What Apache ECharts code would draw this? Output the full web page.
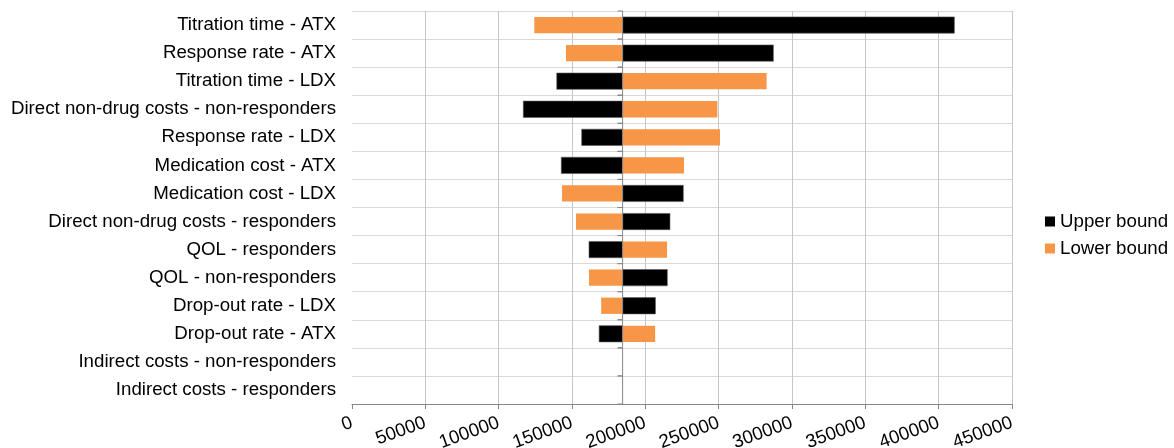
<!DOCTYPE html>
<html>
<head>
<meta charset="utf-8">
<script src="https://cdn.jsdelivr.net/npm/echarts@6/dist/echarts.min.js"></script>
<style>
html,body{margin:0;padding:0;background:#fff;}
#chart{width:1174px;height:448px;}
</style>
</head>
<body>
<div id="chart"></div>
<script>
const categories = [
  'Titration time - ATX',
  'Response rate - ATX',
  'Titration time - LDX',
  'Direct non-drug costs - non-responders',
  'Response rate - LDX',
  'Medication cost - ATX',
  'Medication cost - LDX',
  'Direct non-drug costs - responders',
  'QOL - responders',
  'QOL - non-responders',
  'Drop-out rate - LDX',
  'Drop-out rate - ATX',
  'Indirect costs - non-responders',
  'Indirect costs - responders'
];
const baseValue = 184500;
const upperBound = [410700, 287300, 139600, 116800, 156600, 142700, 225900, 216800, 161600, 215000, 206900, 168500, 184500, 184500];
const lowerBound = [124300, 145900, 282700, 249100, 250900, 226400, 143200, 152700, 214800, 161600, 169900, 206700, 184500, 184500];
const xTicks = { min: 0, max: 450000, interval: 50000 };

const FONT = 'Liberation Sans, Arial, sans-serif';
const FS = 18.7;

function barRender(params, api) {
  const cat = api.value(1);
  const v = api.value(0);
  const p0 = api.coord([baseValue, cat]);
  const p1 = api.coord([v, cat]);
  const band = api.size([0, 1])[1];
  const h = band * 0.58;
  const x = Math.min(p0[0], p1[0]);
  const w = Math.abs(p1[0] - p0[0]);
  if (w < 0.5) return null;
  return {
    type: 'rect',
    shape: { x: x, y: p0[1] - h / 2, width: w, height: h },
    style: api.style()
  };
}

function axisRender(params, api) {
  const cat = api.value(1);
  const p = api.coord([baseValue, cat]);
  const band = api.size([0, 1])[1];
  const top = p[1] - band / 2, bottom = p[1] + band / 2;
  const st = { stroke: '#868686', lineWidth: 1 };
  return {
    type: 'group',
    children: [
      { type: 'line', shape: { x1: p[0], y1: top, x2: p[0], y2: bottom }, style: st },
      { type: 'line', shape: { x1: p[0] - 5, y1: top, x2: p[0], y2: top }, style: st },
      { type: 'line', shape: { x1: p[0] - 5, y1: bottom, x2: p[0], y2: bottom }, style: st }
    ]
  };
}

const chart = echarts.init(document.getElementById('chart'), null, { renderer: 'canvas' });
chart.setOption({
  animation: false,
  backgroundColor: '#ffffff',
  textStyle: { fontFamily: FONT },
  grid: { left: 352, right: 162, top: 11, bottom: 44, containLabel: false, outerBoundsMode: 'none' },
  legend: {
    orient: 'vertical',
    left: 1040,
    top: 207,
    itemWidth: 10,
    itemHeight: 10,
    itemGap: 8,
    itemStyle: { borderWidth: 0 },
    textStyle: { fontFamily: FONT, fontSize: FS, color: '#000', padding: [0, 0, 0, 0] },
    data: [
      { name: 'Upper bound', icon: 'rect' },
      { name: 'Lower bound', icon: 'rect' }
    ]
  },
  xAxis: {
    type: 'value',
    min: xTicks.min,
    max: xTicks.max,
    interval: xTicks.interval,
    axisLine: { show: true, lineStyle: { color: '#868686', width: 1 } },
    axisTick: { show: true, length: 5, lineStyle: { color: '#868686' } },
    axisLabel: {
      rotate: 20, margin: 18, fontFamily: FONT, fontSize: FS, color: '#000',
      formatter: function (v) { return String(v); }
    },
    splitLine: { show: true, showMinLine: false, lineStyle: { color: '#c6c6c6', width: 1 } }
  },
  yAxis: {
    type: 'category',
    inverse: true,
    data: categories,
    axisLine: { show: false },
    axisTick: { show: false },
    axisLabel: { margin: 16, fontFamily: FONT, fontSize: FS, color: '#000' },
    splitLine: { show: true, lineStyle: { color: '#d9d9d9', width: 1 } }
  },
  series: [
    {
      name: 'Upper bound',
      type: 'custom',
      renderItem: barRender,
      itemStyle: { color: '#000000', borderColor: '#595959', borderWidth: 0.6 },
      encode: { x: 0, y: 1 },
      data: upperBound.map((v, i) => [v, i]),
      z: 3
    },
    {
      name: 'Lower bound',
      type: 'custom',
      renderItem: barRender,
      itemStyle: { color: '#F79646' },
      encode: { x: 0, y: 1 },
      data: lowerBound.map((v, i) => [v, i]),
      z: 3
    },
    {
      name: 'axis',
      type: 'custom',
      renderItem: axisRender,
      silent: true,
      encode: { x: 0, y: 1 },
      data: categories.map((c, i) => [baseValue, i]),
      z: 5
    }
  ]
});
</script>
</body>
</html>
